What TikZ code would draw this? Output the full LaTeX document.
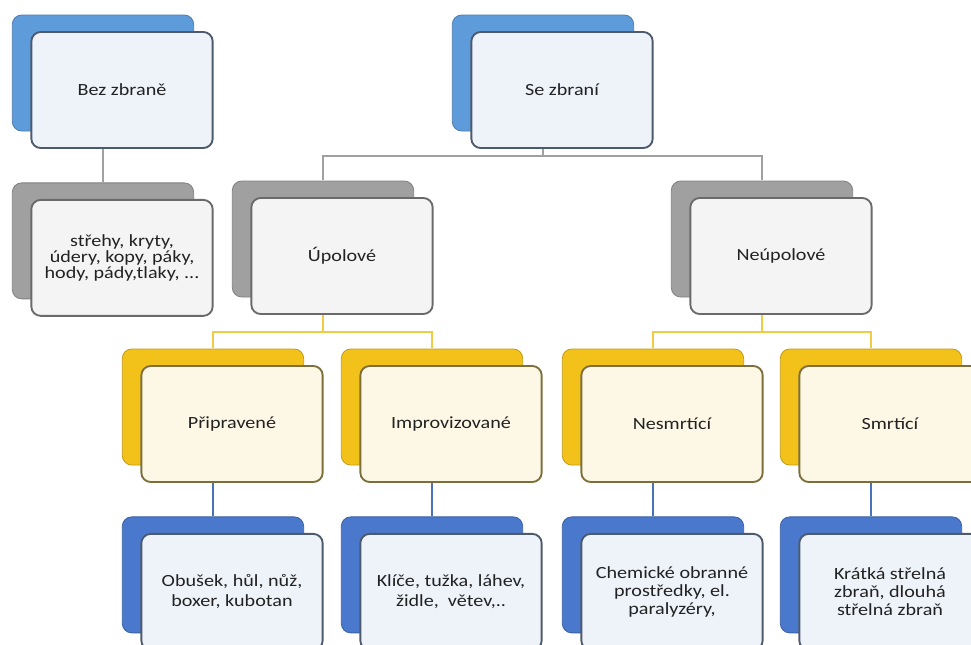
\documentclass[tikz,border=0pt]{standalone}
\usepackage{fontspec}
\setmainfont{Carlito}[FakeStretch=1.18]
\usepackage{tikz}
\usetikzlibrary{positioning,shadows,backgrounds}
\definecolor{skyblue}{HTML}{5E9BDB}
\definecolor{deepblue}{HTML}{4A78CC}
\definecolor{midgray}{HTML}{A0A0A0}
\definecolor{gold}{HTML}{F2C21B}
\definecolor{linegold}{HTML}{F0CC45}
\definecolor{lineblue}{HTML}{4A72B8}
\definecolor{textgray}{HTML}{222222}
\definecolor{blueedge}{HTML}{4D5A6C}
\definecolor{grayedge}{HTML}{6A6A6A}
\definecolor{goldedge}{HTML}{7D6F3C}
\definecolor{bluepane}{HTML}{EEF2F9}
\definecolor{graypane}{HTML}{F4F4F4}
\definecolor{goldpane}{HTML}{FDF7E5}

\begin{document}
\begin{tikzpicture}[
  x=0.75pt, y=-0.75pt,
  card/.style={draw, rounded corners=7pt, line width=1.4pt, minimum width=136pt,
    minimum height=87pt, align=center, text=textgray,
    font=\fontsize{12.8}{15}\selectfont},
  back/.style={general shadow={draw=#1!80!black, fill=#1, line width=0.6pt,
    shadow xshift=-14.25pt, shadow yshift=12.75pt}},
  bluecard/.style={card, back=#1, draw=blueedge, fill=bluepane},
  graycard/.style={card, back=midgray, draw=grayedge, fill=graypane},
  goldcard/.style={card, back=gold, draw=goldedge, fill=goldpane},
  bk/.style={shift={(-19,-17)}},
  gline/.style={draw=midgray, line width=1.4pt},
  yline/.style={draw=linegold, line width=1.4pt},
  bline/.style={draw=lineblue, line width=1.4pt}
]
  \useasboundingbox (0,0) rectangle (971,644);
  \clip (0,0) rectangle (971,644);

  % Top level
  \node[bluecard=skyblue] (bez) at (122,90) {Bez zbraně};
  \node[bluecard=skyblue] (se) at (562,90) {Se zbraní};

  % Second level
  \node[graycard, below=37.5pt of bez, font=\fontsize{12.8}{12.3}\selectfont] (list)
    {střehy, kryty,\\údery, kopy, páky,\\hody, pády,tlaky, ...};
  \node[graycard] (upol) at (342,256) {Úpolové};
  \node[graycard] (neupol) at (781,256) {Neúpolové};

  % Third level
  \node[goldcard] (prip) at (232,424) {Připravené};
  \node[goldcard] (impr) at (451,424) {Improvizované};
  \node[goldcard] (nesm) at (672,424) {Nesmrtící};
  \node[goldcard] (smrt) at (890,424) {Smrtící};

  % Examples
  \node[bluecard=deepblue, below=37.5pt of prip] (obus) {Obušek, hůl, nůž,\\boxer, kubotan};
  \node[bluecard=deepblue, below=37.5pt of impr] (klic) {Klíče, tužka, láhev,\\židle,\ \ větev,..};
  \node[bluecard=deepblue, below=37.5pt of nesm, font=\fontsize{12.8}{13.5}\selectfont] (chem)
    {Chemické obranné\\prostředky, el.\\paralyzéry,};
  \node[bluecard=deepblue, below=37.5pt of smrt, font=\fontsize{12.8}{13.5}\selectfont] (krat)
    {Krátká střelná\\zbraň, dlouhá\\střelná zbraň};

  % Connectors
  \begin{scope}[on background layer]
    \draw[gline] ([bk]bez.south) -- ([bk]list.north);
    \draw[gline] ([bk]se.south) -- ++(0,24) -| ([bk]upol.north);
    \draw[gline] ([bk]se.south) -- ++(0,24) -| ([bk]neupol.north);
    \draw[yline] ([bk]upol.south) -- ++(0,34) -| ([bk]prip.north);
    \draw[yline] ([bk]upol.south) -- ++(0,34) -| ([bk]impr.north);
    \draw[yline] ([bk]neupol.south) -- ++(0,34) -| ([bk]nesm.north);
    \draw[yline] ([bk]neupol.south) -- ++(0,34) -| ([bk]smrt.north);
    \draw[bline] ([bk]prip.south) -- ([bk]obus.north);
    \draw[bline] ([bk]impr.south) -- ([bk]klic.north);
    \draw[bline] ([bk]nesm.south) -- ([bk]chem.north);
    \draw[bline] ([bk]smrt.south) -- ([bk]krat.north);
  \end{scope}
\end{tikzpicture}
\end{document}
